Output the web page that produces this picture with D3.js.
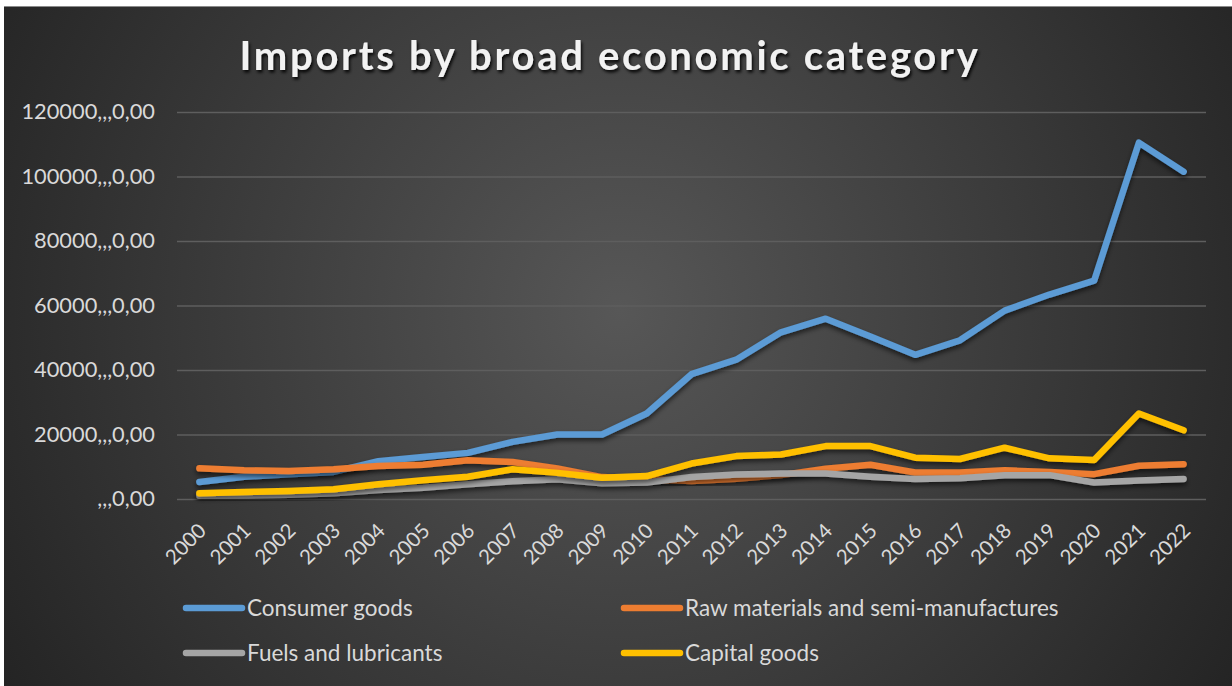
<!DOCTYPE html>
<html>
<head>
<meta charset="utf-8">
<script src="https://cdn.jsdelivr.net/npm/d3@7"></script>
<style>
  html, body { margin: 0; padding: 0; background: #fff; }
  svg { display: block; }
  text { font-family: Lato, "Open Sans", sans-serif; }
</style>
</head>
<body>
<svg id="chart" width="1232" height="686"></svg>
<script>
var years = ["2000","2001","2002","2003","2004","2005","2006","2007","2008","2009","2010",
  "2011","2012","2013","2014","2015","2016","2017","2018","2019","2020","2021","2022"];

var consumer = [5300, 6900, 7700, 8400, 11700, 13000, 14300, 17700, 20000, 20000, 26500,
  38700, 43200, 51700, 55900, 50400, 44700, 49200, 58400, 63400, 67700, 110500, 101500];
var rawMaterials = [9500, 8900, 8700, 9200, 10200, 10600, 12000, 11500, 9500, 6800, 6100,
  5600, 6300, 7400, 9400, 10600, 8200, 8200, 8900, 8400, 7700, 10300, 10800];
var fuels = [1000, 1100, 1300, 1800, 2800, 3500, 4600, 5500, 6100, 4900, 5100,
  6800, 7600, 7900, 7900, 6900, 6200, 6400, 7400, 7400, 5100, 5700, 6200];
var capital = [1800, 2200, 2500, 3000, 4600, 5800, 6900, 9200, 8100, 6600, 7100,
  11000, 13300, 13800, 16400, 16400, 12800, 12400, 15900, 12600, 12100, 26500, 21300];

var seriesNames = ["Consumer goods", "Raw materials and semi-manufactures", "Fuels and lubricants", "Capital goods"];
var seriesColors = ["#5b9bd5", "#ed7d31", "#a5a5a5", "#ffc000"];
var yTicks = [0, 20000, 40000, 60000, 80000, 100000, 120000];

var series = [consumer, rawMaterials, fuels, capital].map(function(v, i) {
  return {name: seriesNames[i], color: seriesColors[i], values: v};
});

var svg = d3.select("#chart"),
  margin = {top: 112, left: 177, bottom: 187, right: 26},
  width = +svg.attr("width"),
  height = +svg.attr("height");

var defs = svg.append("defs");
var grad = defs.append("radialGradient")
  .attr("id", "bg")
  .attr("gradientUnits", "userSpaceOnUse")
  .attr("cx", 620).attr("cy", 310).attr("r", 720);
grad.append("stop").attr("offset", "0%").attr("stop-color", "#575757");
grad.append("stop").attr("offset", "100%").attr("stop-color", "#242424");

var shadow = defs.append("filter").attr("id", "shadow")
  .attr("x", "-5%").attr("y", "-20%").attr("width", "110%").attr("height", "140%");
shadow.append("feDropShadow")
  .attr("dx", 0).attr("dy", 3).attr("stdDeviation", 2.5)
  .attr("flood-color", "#000").attr("flood-opacity", 0.6);

var tshadow = defs.append("filter").attr("id", "tshadow");
tshadow.append("feDropShadow")
  .attr("dx", 1.5).attr("dy", 2.5).attr("stdDeviation", 1.5)
  .attr("flood-color", "#000").attr("flood-opacity", 0.9);

// chart area background
svg.append("rect")
  .attr("x", 4).attr("y", 6)
  .attr("width", width - 4).attr("height", height - 6)
  .attr("fill", "url(#bg)");
svg.append("line")
  .attr("x1", 4).attr("x2", width).attr("y1", 6.5).attr("y2", 6.5)
  .attr("stroke", "#8a8a8a").attr("stroke-width", 1);

var x = d3.scaleBand()
  .domain(years)
  .range([margin.left, width - margin.right]);

var y = d3.scaleLinear()
  .domain([0, 120000])
  .range([height - margin.bottom, margin.top]);

// gridlines
var yAxis = svg.append("g")
  .attr("class", "y-axis")
  .attr("transform", `translate(${margin.left},0)`)
  .call(d3.axisLeft(y)
    .tickValues(yTicks)
    .tickSize(-(width - margin.left - margin.right))
    .tickPadding(22)
    .tickFormat(d => (d === 0 ? "" : d) + ",,,0,00"));

yAxis.select(".domain").remove();
yAxis.selectAll(".tick line")
  .attr("stroke", "#5e5e5e")
  .attr("stroke-width", 1.3);
yAxis.selectAll(".tick text")
  .attr("fill", "#d9d9d9")
  .style("font-size", "21.8px")
  .style("font-family", "Lato, sans-serif");

// x axis labels
var xAxis = svg.append("g")
  .attr("class", "x-axis")
  .attr("transform", `translate(0,${height - margin.bottom})`)
  .call(d3.axisBottom(x).tickSize(0).tickPadding(0));

xAxis.select(".domain").remove();
xAxis.selectAll(".tick text")
  .attr("fill", "#d9d9d9")
  .style("font-size", "20.5px")
  .style("font-family", "Lato, sans-serif")
  .attr("text-anchor", "end")
  .attr("dy", 0)
  .attr("transform", "translate(8,33) rotate(-45)");

// lines
var line = d3.line()
  .x((d, i) => x(years[i]) + x.bandwidth() / 2)
  .y(d => y(d));

svg.append("g")
  .attr("class", "lines")
  .selectAll("path")
  .data(series)
  .enter().append("path")
  .attr("d", d => line(d.values))
  .attr("fill", "none")
  .attr("stroke", d => d.color)
  .attr("stroke-width", 6.5)
  .attr("stroke-linecap", "round")
  .attr("stroke-linejoin", "round")
  .attr("filter", "url(#shadow)");

// title
svg.append("text")
  .attr("x", 610)
  .attr("y", 70)
  .attr("text-anchor", "middle")
  .attr("class", "title")
  .attr("fill", "#f2f2f2")
  .attr("filter", "url(#tshadow)")
  .style("font-size", "40px")
  .style("font-weight", "bold")
  .style("letter-spacing", "2.7px")
  .text("Imports by broad economic category");

// legend
var legendPos = [[186, 608], [624, 608], [186, 653], [624, 653]];
var legend = svg.append("g")
  .attr("class", "legend")
  .selectAll("g")
  .data(series)
  .enter().append("g")
  .attr("transform", (d, i) => `translate(${legendPos[i][0]},${legendPos[i][1]})`);

legend.append("line")
  .attr("x1", 0).attr("x2", 56)
  .attr("y1", 0).attr("y2", 0)
  .attr("stroke", d => d.color)
  .attr("stroke-width", 6.5)
  .attr("stroke-linecap", "round");

legend.append("text")
  .attr("x", 61)
  .attr("y", 0)
  .attr("dy", "0.35em")
  .attr("fill", "#d9d9d9")
  .style("font-size", "22.5px")
  .text(d => d.name);
</script>
</body>
</html>
